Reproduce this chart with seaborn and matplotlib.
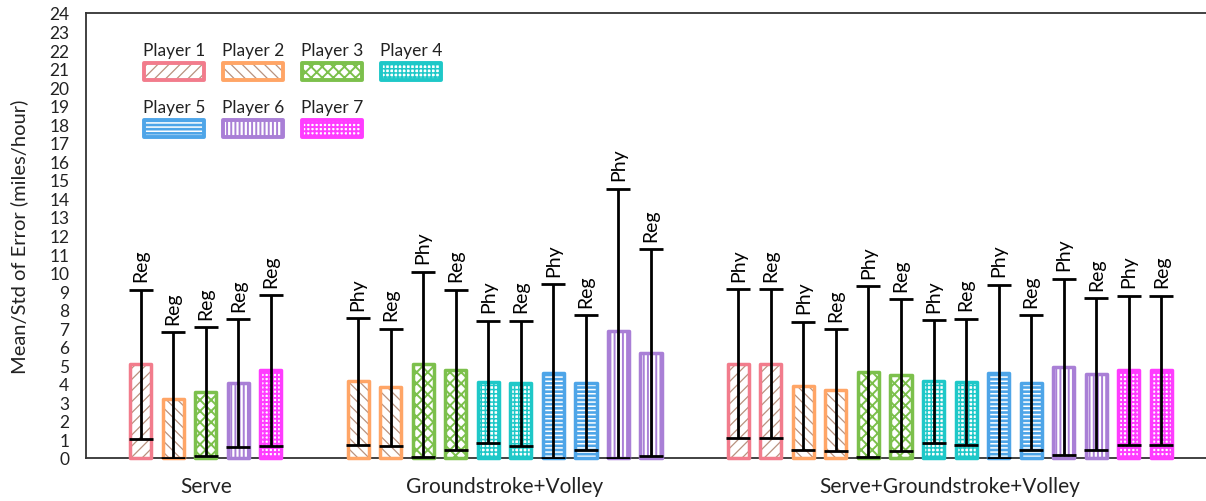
import numpy as np
import pandas as pd
import matplotlib
matplotlib.use("Agg")
import matplotlib.pyplot as plt
import seaborn as sns
from matplotlib.patches import Rectangle

sns.set_theme(style="white")
plt.rcParams["font.family"] = ["Lato", "DejaVu Sans"]
plt.rcParams["hatch.linewidth"] = 1.2

# ---- data -------------------------------------------------------------
groups = ["Serve", "Groundstroke+Volley", "Serve+Groundstroke+Volley"]
players = ["Player 1", "Player 2", "Player 3", "Player 4",
           "Player 5", "Player 6", "Player 7"]

serve_players = [1, 2, 3, 6, 7]
serve_cond = ["Reg", "Reg", "Reg", "Reg", "Reg"]
serve_mean = [5.05, 3.20, 3.58, 4.03, 4.72]
serve_std = [4.02, 3.60, 3.48, 3.45, 4.05]

gv_players = [2, 2, 3, 3, 4, 4, 5, 5, 6, 6]
gv_cond = ["Phy", "Reg"] * 5
gv_mean = [4.13, 3.82, 5.05, 4.75, 4.11, 4.03, 4.60, 4.07, 6.87, 5.68]
gv_std = [3.42, 3.16, 5.00, 4.32, 3.30, 3.38, 4.77, 3.63, 7.66, 5.58]

sgv_players = [1, 1, 2, 2, 3, 3, 4, 4, 5, 5, 6, 6, 7, 7]
sgv_cond = ["Phy", "Reg"] * 7
sgv_mean = [5.09, 5.09, 3.90, 3.65, 4.65, 4.46, 4.13, 4.12,
            4.60, 4.07, 4.92, 4.53, 4.72, 4.72]
sgv_std = [4.03, 4.03, 3.45, 3.29, 4.60, 4.10, 3.32, 3.40,
           4.75, 3.63, 4.76, 4.10, 4.04, 4.04]

# ---- per-player bar styling ------------------------------------------
# (outline colour, face colour, hatch, hatch colour, hatch linewidth)
styles = {
    1: ("#f27c8c", "white", "///", "#b8927f", 0.9),
    2: ("#ffa566", "white", "\\\\\\", "#b8927f", 0.9),
    3: ("#7cc04c", "white", "xxx", "#7cc04c", 1.4),
    4: ("#1ec8c8", "white", "++++", "#1ec8c8", 1.1),
    5: ("#4ea5e8", "#4ea5e8", "----", "white", 1.1),
    6: ("#a97fd6", "white", "||||", "#a97fd6", 1.4),
    7: ("#ff3cff", "white", "++++", "#ff3cff", 1.4),
}

# ---- assemble table with x layout ------------------------------------
group_gap = 2.68
rows = []
start = 0.0
for g, pl, cond, m, s in zip(groups,
                             [serve_players, gv_players, sgv_players],
                             [serve_cond, gv_cond, sgv_cond],
                             [serve_mean, gv_mean, sgv_mean],
                             [serve_std, gv_std, sgv_std]):
    xs = start + np.arange(len(m))
    for x, p, c, mm, ss in zip(xs, pl, cond, m, s):
        rows.append(dict(group=g, pos=x, player=p, cond=c, mean=mm, std=ss))
    start = xs[-1] + group_gap
df = pd.DataFrame(rows)

# ---- figure ----------------------------------------------------------
fig = plt.figure(figsize=(12.06, 5.02), dpi=100)
ax = fig.add_axes([86 / 1206, 43 / 502, 1120 / 1206, 445 / 502])

sns.barplot(data=df, x="pos", y="mean", native_scale=True, width=0.65,
            errorbar=None, color="white", linewidth=0, ax=ax)

bars = sorted(ax.patches, key=lambda p: p.get_x())
for bar, player in zip(bars, df["player"]):
    outline, face, hatch, hcol, hlw = styles[player]
    bar.set_facecolor(face)
    bar.set_edgecolor(hcol)
    bar.set_linewidth(0)
    bar.set_hatch(hatch)
    if hasattr(bar, "set_hatch_linewidth"):
        bar.set_hatch_linewidth(hlw)
    bar.set_zorder(2)
    ax.add_patch(Rectangle((bar.get_x(), bar.get_y()), bar.get_width(),
                           bar.get_height(), fill=False, edgecolor=outline,
                           linewidth=2.5, joinstyle="round", zorder=3,
                           clip_on=False))

lower = np.minimum(df["std"], df["mean"])
upper = df["std"]
ax.errorbar(df["pos"], df["mean"], yerr=[lower, upper], fmt="none",
            ecolor="black", elinewidth=2.0, capsize=8.5, capthick=2.0,
            zorder=4)

for _, r in df.iterrows():
    ax.annotate(r["cond"], (r["pos"], r["mean"] + r["std"]),
                xytext=(0, 6), textcoords="offset points", rotation=90,
                ha="center", va="bottom", fontsize=14, color="black")

# ---- axes ------------------------------------------------------------
ax.set_xlim(df["pos"].min() - 1.68, df["pos"].max() + 1.37)
ax.set_ylim(0, 24)
ax.set_yticks(range(0, 25))
ax.tick_params(axis="y", direction="in", length=16, width=1.3,
               color="#333333", labelsize=12.5, pad=12, labelcolor="#222222")

centers = df.groupby("group", sort=False)["pos"].mean()
ax.set_xticks(centers.values)
ax.set_xticklabels(centers.index, fontsize=15, color="#222222")
ax.tick_params(axis="x", length=0, pad=13)
ax.set_xlabel("")
ax.set_ylabel("Mean/Std of Error (miles/hour)", fontsize=14.5,
              color="#222222", labelpad=15)

for side in ["left", "bottom", "top"]:
    ax.spines[side].set_color("#333333")
    ax.spines[side].set_linewidth(1.3)
ax.spines["right"].set_visible(False)

# ---- legend: label above each swatch, 4 per row -------------------------
col_x = [0.0786, 0.1491, 0.2196, 0.2902]
row_y = [0.8685, 0.7404]
sw_w, sw_h = 0.0536, 0.0382
for i, name in enumerate(players):
    outline, face, hatch, hcol, hlw = styles[i + 1]
    cx = col_x[i % 4]
    cy = row_y[i // 4]
    fill = Rectangle((cx - sw_w / 2, cy - sw_h / 2), sw_w, sw_h,
                     transform=ax.transAxes, facecolor=face, edgecolor=hcol,
                     linewidth=0, hatch=hatch, zorder=5)
    if hasattr(fill, "set_hatch_linewidth"):
        fill.set_hatch_linewidth(hlw)
    ax.add_patch(fill)
    ax.add_patch(Rectangle((cx - sw_w / 2, cy - sw_h / 2), sw_w, sw_h,
                           transform=ax.transAxes, fill=False,
                           edgecolor=outline, linewidth=2.8,
                           joinstyle="round", zorder=6))
    ax.text(cx, cy + sw_h / 2 + 0.012, name, transform=ax.transAxes,
            ha="center", va="bottom", fontsize=12.5, color="#222222")

fig.savefig("out.png", dpi=100)
